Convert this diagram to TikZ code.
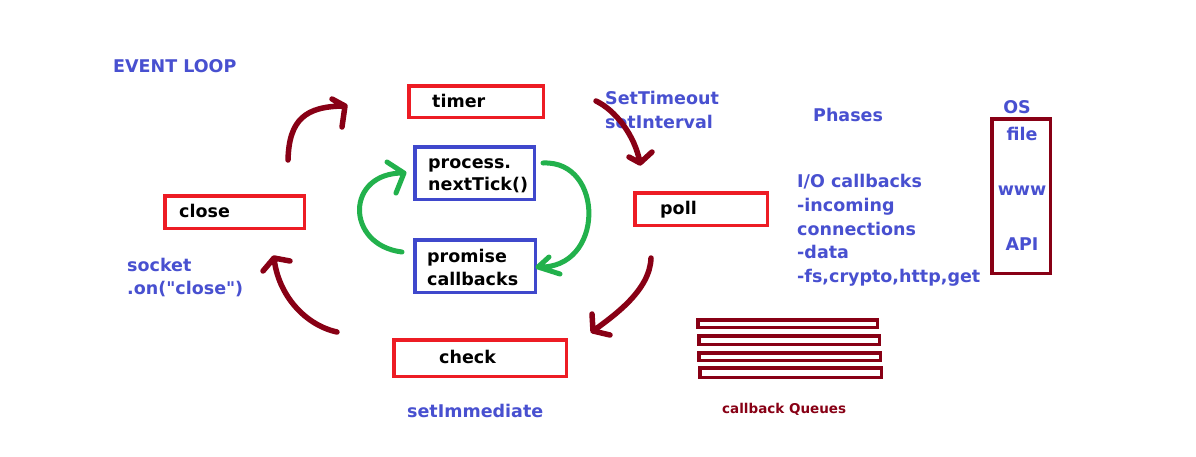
\documentclass[tikz,border=0pt]{standalone}
\usepackage{fontspec}
\setmainfont{DejaVu Sans}[Ligatures=TeXOff]
\definecolor{pred}{HTML}{ED1C24}
\definecolor{pblue}{HTML}{3F48CC}
\definecolor{tblue}{HTML}{4850D0}
\definecolor{pmaroon}{HTML}{880015}
\definecolor{pgreen}{HTML}{22B14C}
\tikzset{
  rbox/.style={draw=pred, line width=3.5pt, inner sep=0pt},
  bbox/.style={draw=pblue, line width=3.5pt, inner sep=0pt},
  obox/.style={draw=pmaroon, line width=3.5pt, inner sep=0pt},
  qbar/.style={draw=pmaroon, line width=3.5pt},
  ktxt/.style={font=\fontsize{17.5}{22}\selectfont\bfseries, inner sep=0pt, anchor=base west, text=black},
  btxt/.style={ktxt, text=tblue},
  ctxt/.style={btxt, anchor=base},
  qtxt/.style={font=\fontsize{13.5}{16}\selectfont\bfseries, inner sep=0pt, anchor=base west, text=pmaroon},
  marrow/.style={draw=pmaroon, line width=5.5pt, line cap=round, line join=round},
  garrow/.style={draw=pgreen, line width=5pt, line cap=round, line join=round},
}
\begin{document}
\begin{tikzpicture}[x=1pt,y=-1pt]
\useasboundingbox[fill=white] (0,0) rectangle (1196,456);

% phase boxes
\node[rbox, minimum width=134.5pt, minimum height=31.5pt] (timer) at (476,101.5) {};
\node[bbox, minimum width=119.5pt, minimum height=52.5pt] (tick) at (474.5,173) {};
\node[bbox, minimum width=120.5pt, minimum height=52.5pt] (prom) at (475,266) {};
\node[rbox, minimum width=139.5pt, minimum height=32.5pt] (close) at (234.5,212) {};
\node[rbox, minimum width=132.5pt, minimum height=32.5pt] (poll) at (701,209) {};
\node[rbox, minimum width=172.5pt, minimum height=36.5pt] (check) at (480,358) {};
\node[obox, minimum width=58.5pt, minimum height=154.5pt] (os) at (1021,196) {};

% box texts
\node[ktxt] (ttimer) at (432,107) {timer};
\node[ktxt] (ttick1) at (428,168) {process.};
\node[ktxt] (ttick2) at (428,190) {nextTick()};
\node[ktxt] (tprom1) at (427,262) {promise};
\node[ktxt] (tprom2) at (427,285) {callbacks};
\node[ktxt] (tclose) at (179,217) {close};
\node[ktxt] (tpoll) at (660,214) {poll};
\node[ktxt] (tcheck) at (439,363) {check};

% blue labels
\node[btxt] (title) at (113,72) {EVENT LOOP};
\node[btxt] (sock1) at (127,271) {socket};
\node[btxt] (sock2) at (127,294) {.on("close")};
\node[btxt] (simm) at (407,417) {setImmediate};
\node[btxt] (stime1) at (605,104) {SetTimeout};
\node[btxt] (stime2) at (605,128) {setInterval};
\node[btxt] (phases) at (813,121) {Phases};
\node[ctxt] (ostitle) at (1017,113) {OS};
\node[ctxt] (osfile) at (1022,140) {file};
\node[ctxt] (oswww) at (1022,195) {www};
\node[ctxt] (osapi) at (1022,250) {API};
\node[btxt] (io1) at (797,187) {I/O callbacks};
\node[btxt] (io2) at (797,211) {-incoming};
\node[btxt] (io3) at (797,235) {connections};
\node[btxt] (io4) at (797,258) {-data};
\node[btxt] (io5) at (797,282) {-fs,crypto,http,get};

% callback queues
\draw[qbar] (697.75,319.75) rectangle (877.25,327.25);
\draw[qbar] (698.75,335.75) rectangle (879.25,344.25);
\draw[qbar] (698.75,352.75) rectangle (880.25,360.25);
\draw[qbar] (699.75,367.75) rectangle (881.25,377.25);
\node[qtxt] (cbq) at (722,413) {callback Queues};

% arrow end points
\coordinate (a1s) at (288,160); \coordinate (a1e) at (345,106);
\coordinate (a2s) at (596,101); \coordinate (a2e) at (640,163);
\coordinate (a3s) at (651,258); \coordinate (a3e) at (593,331);
\coordinate (a4s) at (337,332); \coordinate (a4e) at (274,258);
\coordinate (g1s) at (543,163); \coordinate (g1e) at (538,267);
\coordinate (g2s) at (402,252); \coordinate (g2e) at (404,173);

% maroon loop arrows
\draw[marrow] (a1s) .. controls (289,120) and (305,106) .. (a1e)
  (332,99) -- (a1e) -- (342,127);
\draw[marrow] (a2s) .. controls (615,110) and (635,135) .. (a2e)
  (629,157) -- (a2e) -- (652,152);
\draw[marrow] (a3s) .. controls (650,290) and (615,315) .. (a3e)
  (592,314) -- (a3e) -- (610,335);
\draw[marrow] (a4s) .. controls (305,325) and (278,295) .. (a4e)
  (263,271) -- (a4e) -- (290,261);

% green microtask arrows
\draw[garrow] (g1s) .. controls (605,160) and (605,270) .. (g1e)
  (549,257) -- (g1e) -- (560,274);
\draw[garrow] (g2s) .. controls (345,245) and (345,172) .. (g2e)
  (387,162) -- (g2e) -- (396,193);
\end{tikzpicture}
\end{document}
